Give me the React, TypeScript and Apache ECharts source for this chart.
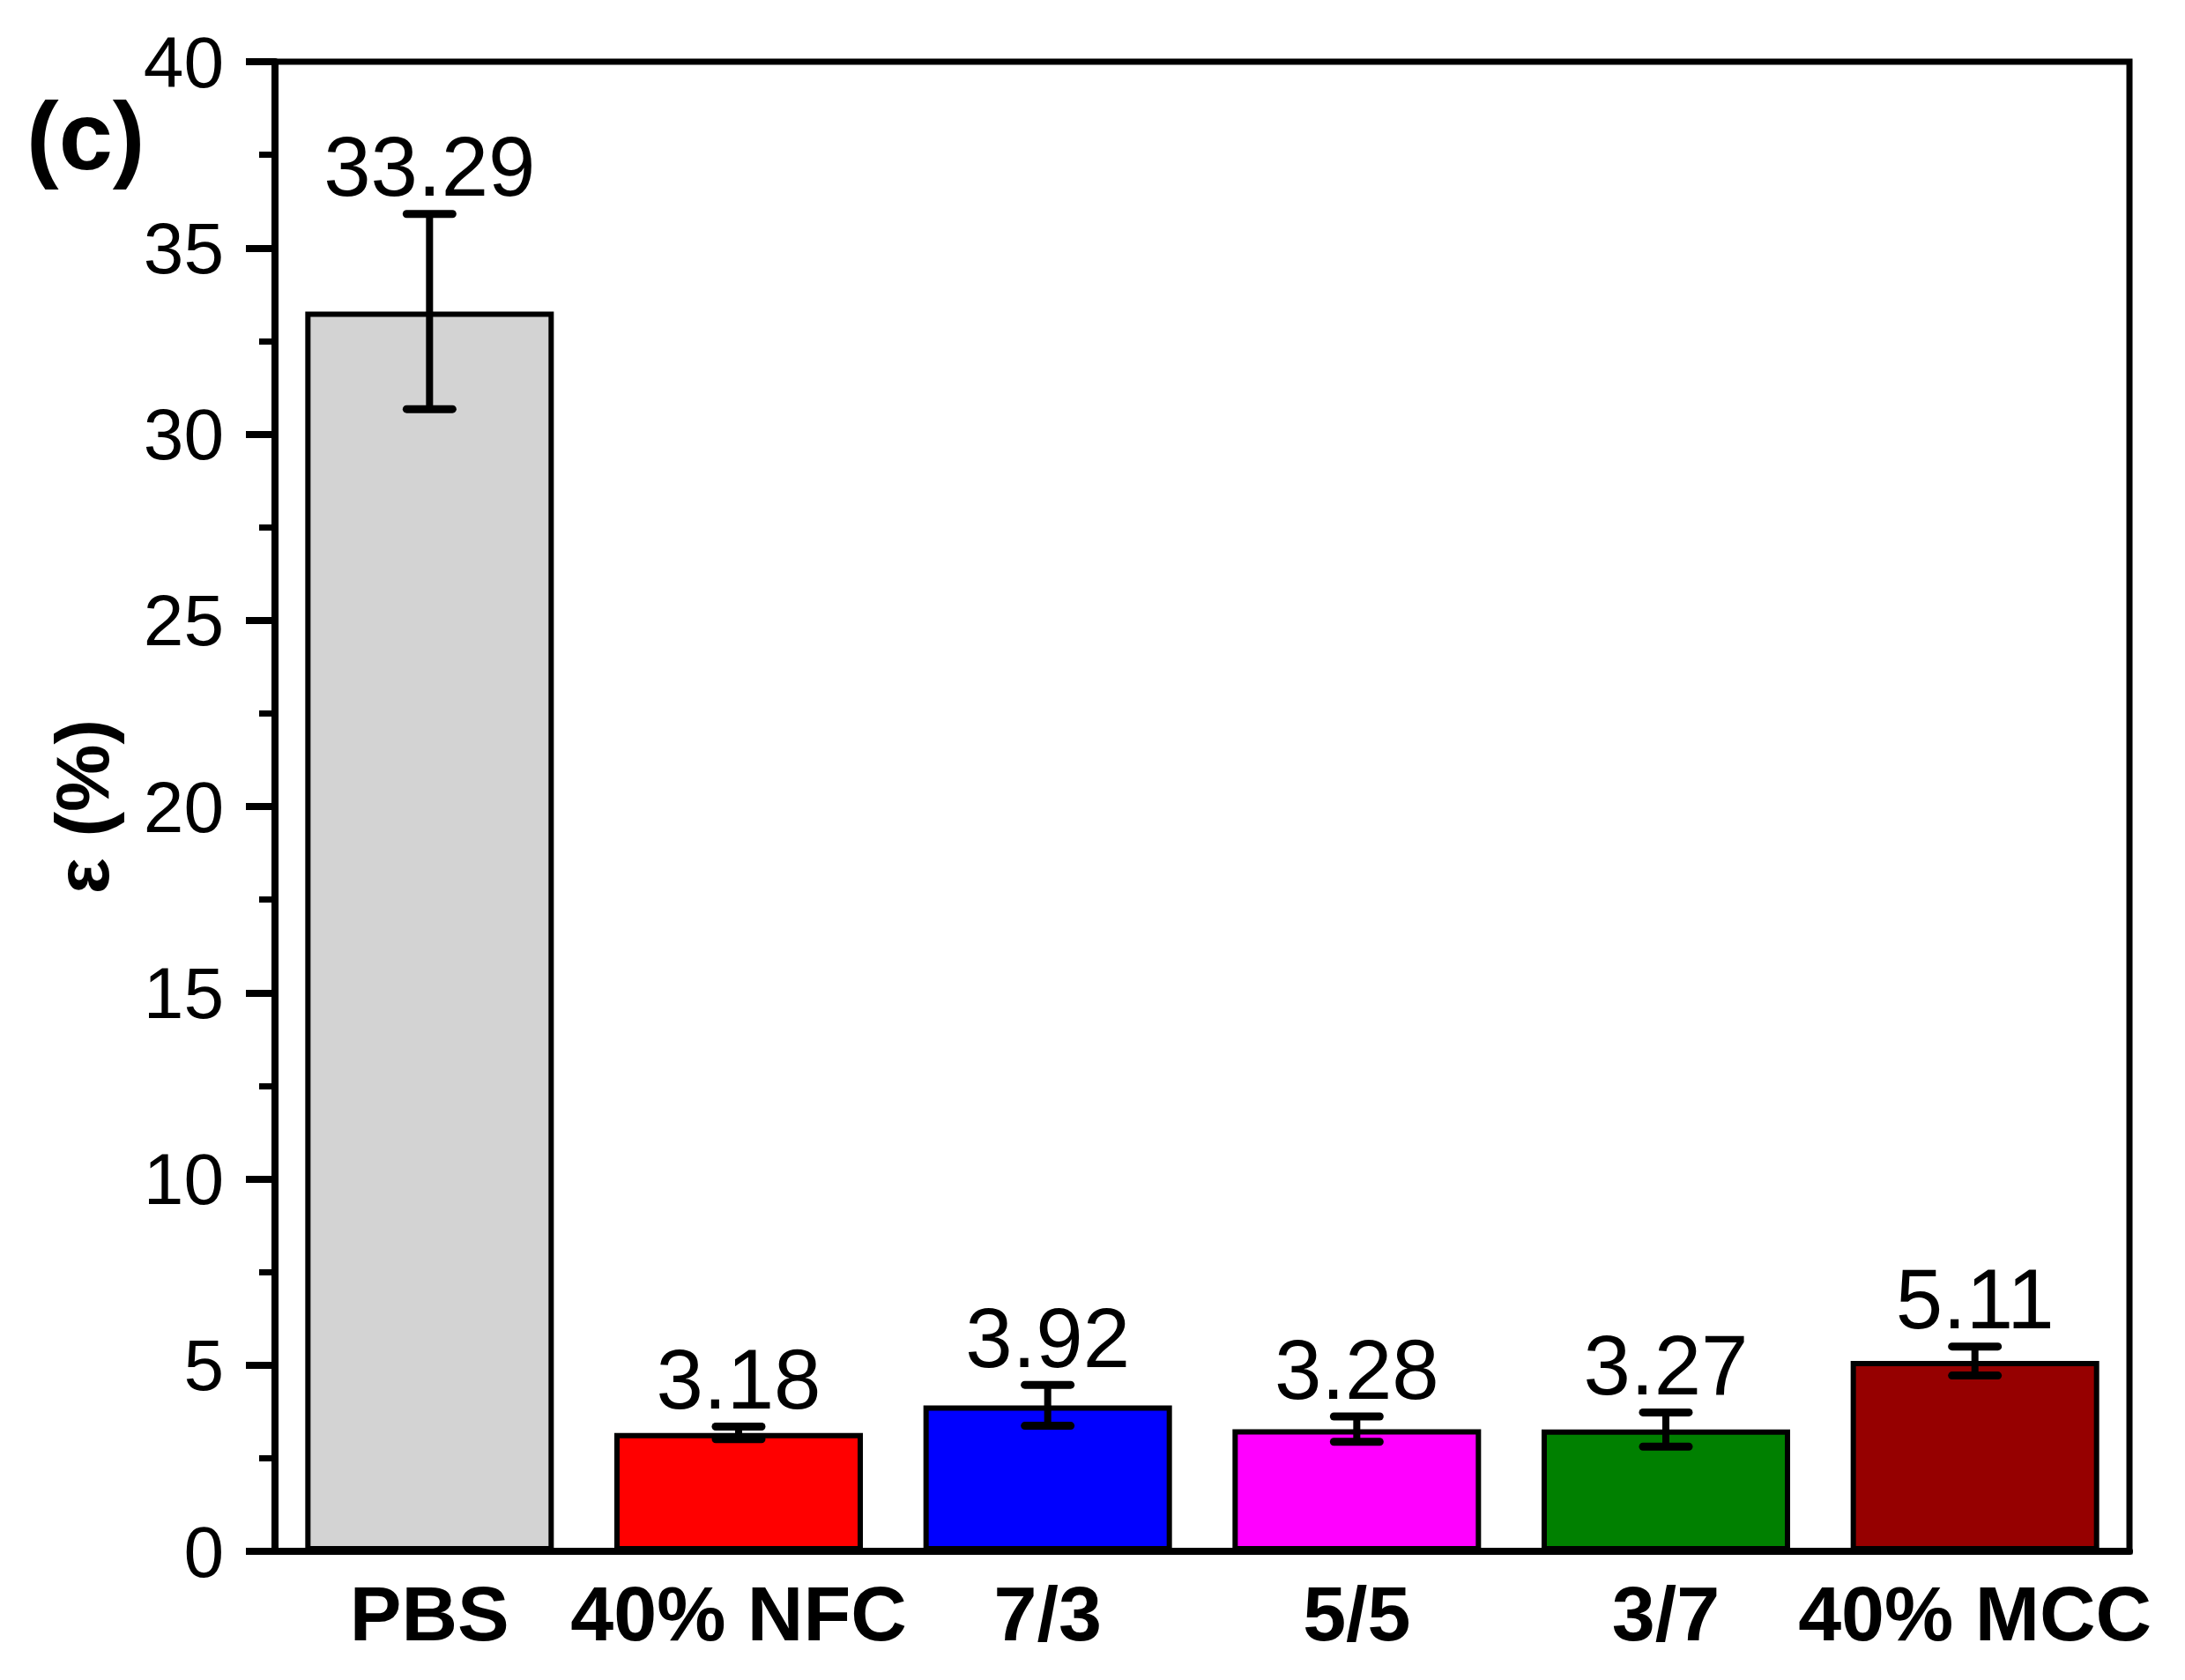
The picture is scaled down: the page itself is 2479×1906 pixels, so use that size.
import React, { useEffect, useRef } from "react";
import * as echarts from "echarts";

const categories = ["PBS", "40% NFC", "7/3", "5/5", "3/7", "40% MCC"];
const values = [33.29, 3.18, 3.92, 3.28, 3.27, 5.11];
const errors = [2.62, 0.17, 0.55, 0.34, 0.46, 0.39];
const barColors = ["#d3d3d3", "#ff0000", "#0000ff", "#ff00ff", "#008000", "#960000"];
const yMin = 0;
const yMax = 40;
const yInterval = 5;

const FONT = "'Liberation Sans', Arial, sans-serif";

export default function App() {
  const ref = useRef<HTMLDivElement>(null);
  useEffect(() => {
    if (!ref.current) return;
    const chart = echarts.init(ref.current, null, { renderer: "svg" });
    const option: any = {
      animation: false,
      backgroundColor: "#ffffff",
      grid: {
        left: 312,
        right: 63,
        top: 70,
        bottom: 146,
        show: true,
        borderColor: "#000",
        borderWidth: 7,
        backgroundColor: "transparent",
      },
      graphic: [
        {
          type: "text",
          left: 30,
          top: 98,
          style: {
            text: "(c)",
            font: `bold 110px ${FONT}`,
            fill: "#000",
          },
        },
      ],
      xAxis: {
        type: "category",
        data: categories,
        axisLine: { show: true, lineStyle: { color: "#000", width: 8 } },
        axisTick: { show: false },
        axisLabel: {
          color: "#000",
          fontFamily: FONT,
          fontWeight: "bold",
          fontSize: 88,
          margin: 26,
          interval: 0,
        },
        splitLine: { show: false },
      },
      yAxis: {
        type: "value",
        min: yMin,
        max: yMax,
        interval: yInterval,
        name: "ε (%)",
        nameLocation: "middle",
        nameGap: 176,
        nameTextStyle: {
          color: "#000",
          fontFamily: FONT,
          fontWeight: "bold",
          fontSize: 86,
        },
        axisLine: { show: true, lineStyle: { color: "#000", width: 8 } },
        axisTick: { show: true, inside: false, length: 33, lineStyle: { color: "#000", width: 8 } },
        minorTick: { show: true, splitNumber: 2, length: 18, lineStyle: { color: "#000", width: 7 } },
        axisLabel: {
          color: "#000",
          fontFamily: FONT,
          fontSize: 82,
          margin: 58,
        },
        splitLine: { show: false },
        minorSplitLine: { show: false },
      },
      series: [
        {
          type: "bar",
          barWidth: 282,
          data: values.map((v, i) => ({
            value: v,
            itemStyle: { color: barColors[i], borderColor: "#000", borderWidth: 6 },
          })),
          z: 2,
        },
        {
          type: "custom",
          z: 5,
          data: values.map((v, i) => [i, v, errors[i]]),
          encode: { x: 0, y: 1 },
          renderItem: (params: any, api: any) => {
            const idx = api.value(0);
            const v = api.value(1);
            const e = api.value(2);
            const top = api.coord([idx, v + e]);
            const bot = api.coord([idx, v - e]);
            const half = 26;
            const capStyle = { stroke: "#000", lineWidth: 9, lineCap: "round" };
            return {
              type: "group",
              children: [
                { type: "line", shape: { x1: top[0], y1: top[1], x2: bot[0], y2: bot[1] }, style: { stroke: "#000", lineWidth: 8 } },
                { type: "line", shape: { x1: top[0] - half, y1: top[1], x2: top[0] + half, y2: top[1] }, style: capStyle },
                { type: "line", shape: { x1: bot[0] - half, y1: bot[1], x2: bot[0] + half, y2: bot[1] }, style: capStyle },
                {
                  type: "text",
                  style: {
                    text: values[params.dataIndex].toFixed(2),
                    x: top[0],
                    y: top[1] - 6,
                    align: "center",
                    verticalAlign: "bottom",
                    textAlign: "center",
                    textVerticalAlign: "bottom",
                    font: `96px ${FONT}`,
                    fill: "#000",
                  },
                },
              ],
            };
          },
        },
      ],
    };
    chart.setOption(option);
    return () => chart.dispose();
  }, []);
  return (
    <div
      ref={ref}
      style={{ position: "fixed", left: 0, top: 0, width: "2479px", height: "1906px", background: "#fff" }}
    />
  );
}
